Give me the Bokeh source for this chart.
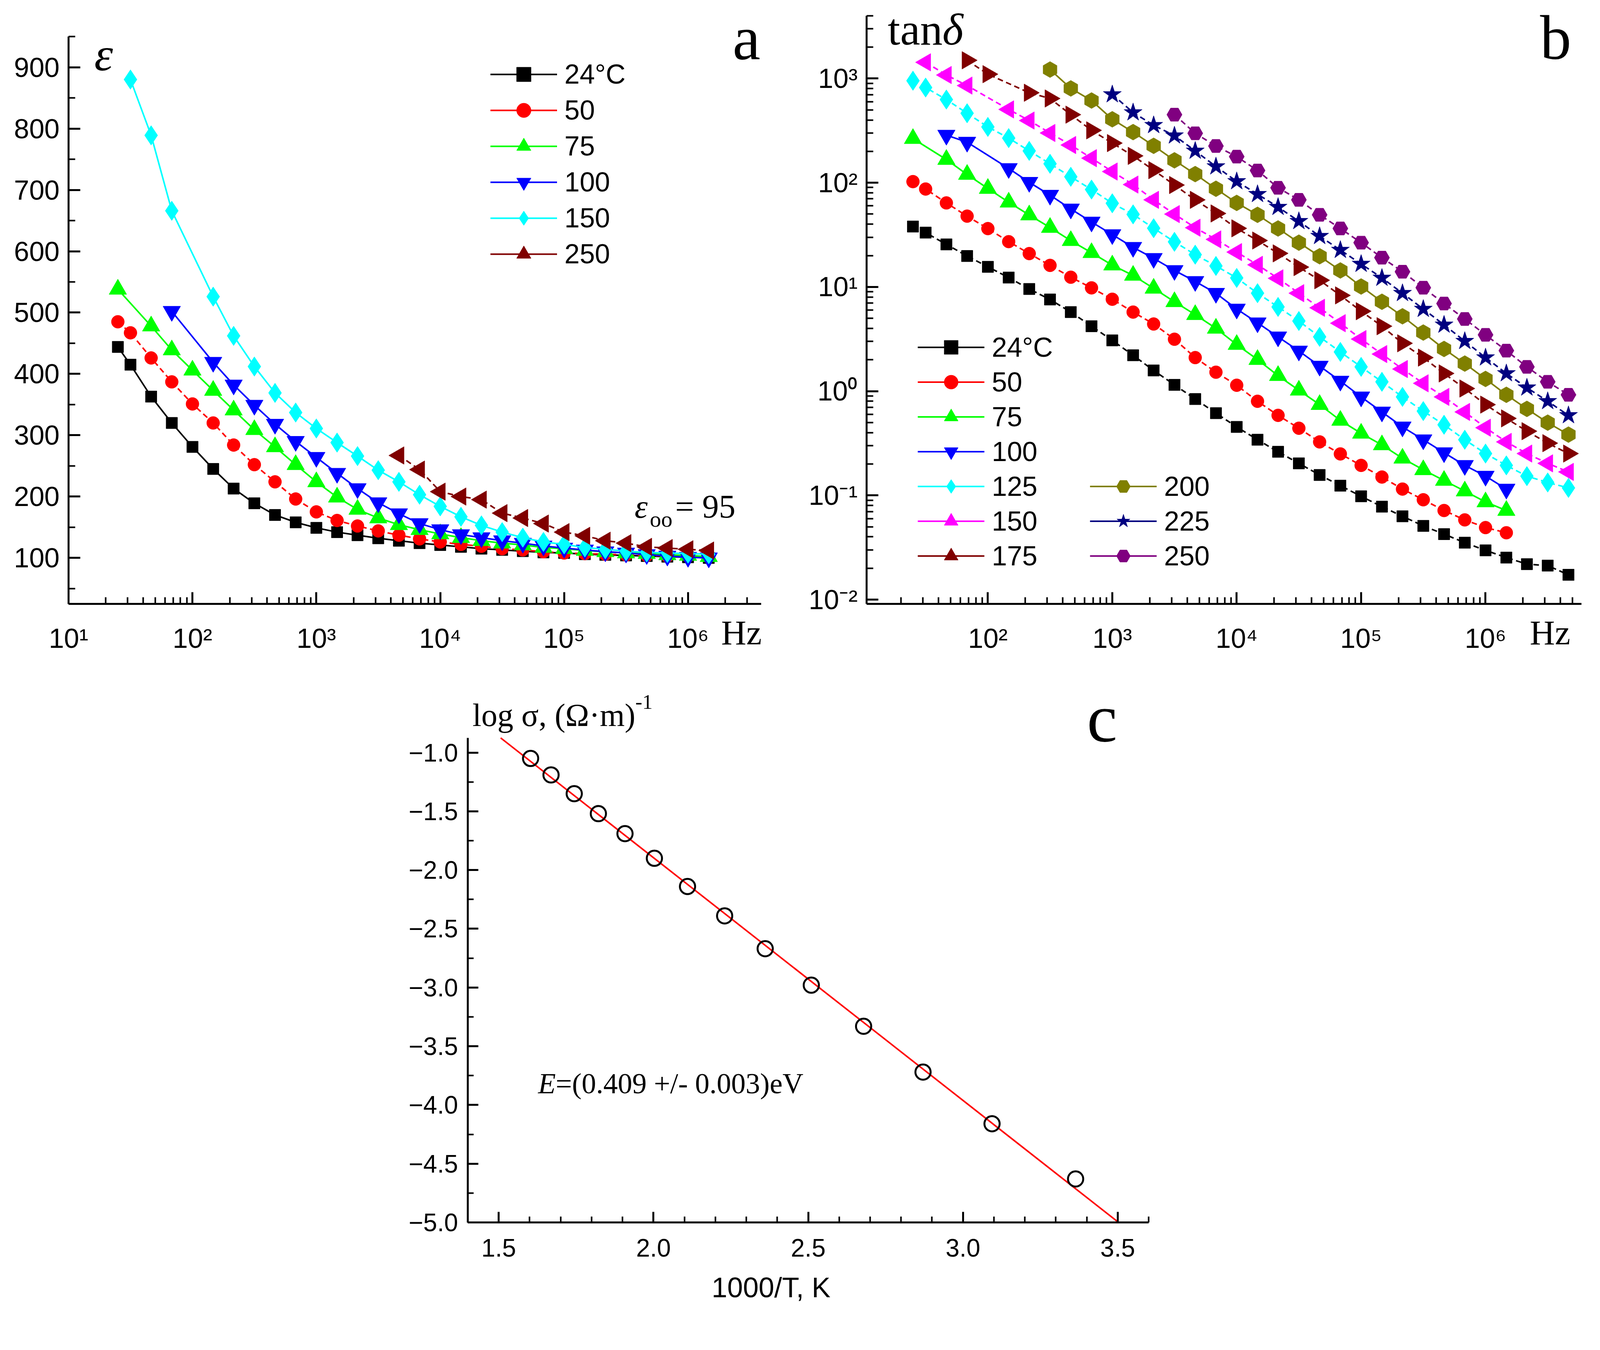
import numpy as np
from bokeh.plotting import figure
from bokeh.models import (FixedTicker, CustomJSTickFormatter, Legend, LegendItem, Label,
                          Range1d, Spacer, ColumnDataSource, LogAxis, LinearAxis)
from bokeh.layouts import row, column
from bokeh.embed import file_html
from bokeh.resources import INLINE

# ---------------- data ----------------
# measurement frequencies (Hz), read from the picture
F = [25, 31.6, 46.4, 68.1, 100, 147, 215, 316, 464, 681, 1000, 1470, 2150, 3160, 4640, 6810,
     1.0e4, 1.47e4, 2.15e4, 3.16e4, 4.64e4, 6.81e4, 1.0e5, 1.47e5, 2.15e5, 3.16e5, 4.64e5, 6.81e5,
     1.0e6, 1.47e6, 2.15e6, 3.16e6, 4.64e6]

# panel a: permittivity
a_f_24 = F[0:30]
a_24 = [444, 415, 363, 320, 281, 245, 213, 189, 170, 158, 149, 142, 137, 132, 128, 124, 121, 118,
        115, 113, 111, 109, 108, 106, 105, 104, 103, 102, 101, 100]
a_f_50 = F[0:30]
a_50 = [485, 467, 426, 387, 351, 320, 284, 252, 224, 196, 175, 161, 152, 144, 137, 131, 126, 122,
        119, 115, 113, 110, 108, 107, 106, 105, 104, 103, 103, 102]
a_f_75 = F[0:1] + F[2:30]
a_75 = [538, 478, 439, 406, 373, 341, 309, 281, 252, 224, 199, 179, 165, 154, 146, 139, 133, 128,
        124, 121, 117, 115, 112, 110, 108, 107, 105, 104, 102]
a_f_100 = F[3:4] + F[5:30]
a_100 = [502, 419, 382, 349, 318, 290, 264, 238, 213, 190, 172, 156, 146, 138, 133, 128, 124,
         119.5, 116, 113, 110, 108, 105.5, 103, 101, 100]
a_f_150 = F[1:4] + F[5:30]
a_150 = [880, 789, 666, 526, 462, 412, 369, 337, 311, 288, 266, 243, 224, 203, 184, 167, 153, 142,
         133, 126, 122, 117, 114, 111, 109, 108, 107, 106]
a_f_250 = F[14:30]
a_250 = [267, 244, 208, 200, 195, 173, 165, 156, 142, 136, 128, 124, 118, 116, 114, 112]

# panel b: loss tangent
b_f_24 = F[0:33]
b_24 = [38, 33.2, 25.6, 19.8, 15.6, 12.3, 9.56, 7.58, 5.74, 4.2, 3.07, 2.21, 1.58, 1.15, 0.84,
        0.615, 0.454, 0.342, 0.262, 0.203, 0.157, 0.124, 0.098, 0.078, 0.063, 0.051, 0.0425,
        0.0352, 0.0297, 0.0253, 0.0219, 0.0212, 0.0173]
b_f_50 = F[0:30]
b_50 = [102.5, 87, 64, 47.8, 36.3, 27.2, 20.9, 16.1, 12.4, 9.8, 7.62, 5.74, 4.41, 3.15, 2.10, 1.52,
        1.14, 0.80, 0.586, 0.441, 0.326, 0.250, 0.194, 0.150, 0.115, 0.0908, 0.0716, 0.0582,
        0.0491, 0.0438]
b_f_75 = F[0:1] + F[2:30]
b_75 = [265, 167, 120, 88, 65, 49, 37.2, 27.8, 21.3, 16.2, 12.9, 9.7, 7.21, 5.42, 4.01, 2.80, 2.01,
        1.41, 1.02, 0.743, 0.524, 0.394, 0.305, 0.227, 0.176, 0.139, 0.110, 0.0865, 0.0716]
b_f_100 = F[2:4] + F[5:30]
b_100 = [286, 245, 137, 101, 76, 56, 42, 31.8, 24, 18.8, 14.4, 11.3, 8.7, 6.14, 4.53, 3.32, 2.43,
         1.74, 1.25, 0.881, 0.632, 0.454, 0.342, 0.257, 0.194, 0.153, 0.115]
b_f_125 = F[0:33]
b_125 = [952, 819, 628, 464, 343, 268, 202, 152, 114, 86, 63.5, 49.7, 36.6, 27.1, 20.4, 15.9, 12.2,
         8.71, 6.43, 4.71, 3.32, 2.38, 1.71, 1.23, 0.881, 0.644, 0.476, 0.342, 0.252, 0.194,
         0.153, 0.133, 0.118]
b_f_150 = F[1:4] + F[5:33]
b_150 = [1430, 1080, 855, 505, 395, 300, 230, 172, 128, 96, 68.5, 50, 37, 28.6, 21.6, 16.3, 12.1,
         8.71, 6.31, 4.49, 3.16, 2.27, 1.63, 1.19, 0.881, 0.632, 0.446, 0.326, 0.252, 0.203, 0.168]
b_f_175 = F[3:5] + F[6:33]
b_175 = [1495, 1100, 730, 643, 450, 318, 240, 181, 132, 95, 68.5, 50.7, 36.5, 27.9, 21, 15.5, 11.6,
         8.3, 5.85, 4.2, 2.88, 2.10, 1.48, 1.06, 0.743, 0.548, 0.413, 0.317, 0.252]
b_f_200 = F[7:33]
b_200 = [1218, 803, 615, 406, 306, 226, 164, 121, 87.5, 64, 49.2, 36.4, 26.6, 19.7, 14.4, 10.1,
         7.21, 5.23, 3.65, 2.54, 1.84, 1.31, 0.923, 0.676, 0.499, 0.383]
b_f_225 = F[10:33]
b_225 = [703, 472, 356, 283, 202, 143, 103, 77.6, 58.4, 42.7, 30.7, 22.6, 16.6, 12.2, 8.71, 6.14,
         4.33, 3.02, 2.10, 1.48, 1.08, 0.80, 0.586]
b_f_250 = F[13:33]
b_250 = [450, 298, 225, 178, 131, 89.4, 68.5, 49.2, 36.4, 26.6, 19.1, 14, 9.84, 6.93, 4.93, 3.47,
         2.45, 1.71, 1.23, 0.923]

# panel c: Arrhenius plot
c_x = [1.603, 1.669, 1.744, 1.822, 1.908, 2.003, 2.110, 2.230, 2.361, 2.510, 2.679, 2.871, 3.094, 3.364]
c_y = [-1.05, -1.19, -1.35, -1.52, -1.69, -1.90, -2.14, -2.39, -2.67, -2.98, -3.33, -3.72, -4.16, -4.63]
fit_slope = -2.066
fit_intercept = 2.237

legend_a = ["24\u00b0C", "50", "75", "100", "150", "250"]
legend_b = ["24\u00b0C", "50", "75", "100", "125", "150", "175", "200", "225", "250"]

# ---------------- styling helpers ----------------
SANS = "Liberation Sans"
SERIF = "Liberation Serif"
DASH = "14 9"
K = 4096 / 4219.0


def s(v):
    return int(round(v * K))


log_fmt_code = """
const sup = {'-':'\u207b','0':'\u2070','1':'\u00b9','2':'\u00b2','3':'\u00b3','4':'\u2074',
             '5':'\u2075','6':'\u2076','7':'\u2077','8':'\u2078','9':'\u2079'};
const e = Math.round(Math.log10(tick));
return '10' + String(e).split('').map(c => sup[c]).join('');
"""


def log_minor(k0, k1, lo, hi):
    return [m * 10.0 ** k for k in range(k0, k1) for m in range(2, 10) if lo <= m * 10.0 ** k <= hi]


def style_axis(ax, fs, tin=31, tmin=17):
    ax.axis_line_width = 5
    ax.axis_line_color = "black"
    ax.major_tick_line_width = 5
    ax.minor_tick_line_width = 4
    ax.major_tick_line_color = "black"
    ax.minor_tick_line_color = "black"
    ax.major_tick_in = s(tin)
    ax.major_tick_out = 0
    ax.minor_tick_in = s(tmin)
    ax.minor_tick_out = 0
    ax.major_label_text_font = SANS
    ax.major_label_text_font_size = f"{s(fs)}px"
    ax.major_label_text_color = "black"


def add_label(p, text, x, y, size, font=SERIF, style="normal"):
    p.add_layout(Label(x=s(x), y=s(y), x_units="screen", y_units="screen", text=text,
                       text_font=font, text_font_size=f"{s(size)}px", text_font_style=style,
                       text_align="left", text_baseline="alphabetic", text_color="black"))


def add_text_axis(p, axis_cls, tick, text, font, size, standoff):
    ax = axis_cls(ticker=FixedTicker(ticks=[tick], minor_ticks=[]),
                  formatter=CustomJSTickFormatter(code="return '%s';" % text),
                  axis_line_color=None, major_tick_line_color=None, minor_tick_line_color=None,
                  major_tick_in=0, major_tick_out=0, minor_tick_in=0, minor_tick_out=0,
                  major_label_text_font=font, major_label_text_font_size=f"{s(size)}px",
                  major_label_text_color="black", major_label_standoff=s(standoff))
    p.add_layout(ax, "below")


def add_series(p, f, v, color, marker, size, dash, angle=0.0):
    src = ColumnDataSource(dict(f=f, v=v))
    p.line('f', 'v', source=src, line_color=color, line_width=4, line_dash=dash)
    sc = p.scatter('f', 'v', source=src, marker=marker, size=s(size), fill_color=color,
                   line_color=color, angle=angle)
    proxy = p.line('f', 'v', source=ColumnDataSource(dict(f=[np.nan], v=[np.nan])),
                   line_color=color, line_width=4)
    return [proxy, sc]


def make_legend(items, x, y, gh):
    return Legend(items=items, location=(s(x), s(y)), orientation="vertical", glyph_width=s(176),
                  glyph_height=s(gh), label_height=s(gh), spacing=0, padding=0, margin=0,
                  label_standoff=s(20), label_text_font=SANS, label_text_font_size=f"{s(72)}px",
                  label_text_color="black", background_fill_alpha=0, border_line_color=None)


# layout geometry (page pixels)
ROW1_H = s(1765) - 8
PA_L, PA_R, PA_T, PA_B = s(189), s(2060), s(10), s(1600)
PB_X0 = s(2130)
PB_L, PB_R, PB_T, PB_B = s(2293), s(4178), s(10), s(1601)
PC_X0, PC_Y0 = s(1000), 8 + ROW1_H
PC_L, PC_R, PC_T, PC_B = s(1241), s(3037), s(1820), s(3230)

# ---------------- panel a ----------------
pa = figure(width=PB_X0 - 8, height=ROW1_H, x_axis_type="log", x_range=Range1d(10, 5.355e6),
            y_range=Range1d(25, 1008.1), output_backend="svg", toolbar_location=None,
            min_border_left=PA_L - 8, min_border_right=PB_X0 - PA_R, min_border_top=PA_T - 8,
            min_border_bottom=8 + ROW1_H - PA_B)
pa.grid.visible = False
pa.outline_line_color = None
pa.xaxis.ticker = FixedTicker(ticks=[10 ** k for k in range(1, 7)],
                              minor_ticks=log_minor(1, 7, 10, 3.9e6))
pa.xaxis.formatter = CustomJSTickFormatter(code=log_fmt_code)
pa.yaxis.ticker = FixedTicker(ticks=list(range(100, 1000, 100)), minor_ticks=list(range(50, 951, 100)))
style_axis(pa.xaxis[0], 72)
style_axis(pa.yaxis[0], 72)
pa.xaxis.bounds = (10, 3.9e6)
pa.yaxis.bounds = (25, 950)
pa.xaxis.major_label_standoff = s(50)
pa.yaxis.major_label_standoff = s(24)
add_text_axis(pa, LogAxis, 2.7e6, "Hz", SERIF, 92, -109)

series_a = [
    (a_f_24, a_24, "#000000", "square", 30, "solid", 0.0),
    (a_f_50, a_50, "#ff0000", "circle", 34, DASH, 0.0),
    (a_f_75, a_75, "#00ff00", "triangle", 46, "solid", 0.0),
    (a_f_100, a_100, "#0000ff", "inverted_triangle", 46, "solid", 0.0),
    (a_f_150, a_150, "#00ffff", "diamond", 52, "solid", 0.0),
    (a_f_250, a_250, "#800000", "triangle", 46, DASH, np.pi / 2),
]
items_a = []
for (f, v, c, m, sz, d, ang), lab in zip(series_a, legend_a):
    items_a.append(LegendItem(label=lab, renderers=add_series(pa, f, v, c, m, sz, d, ang)))
pa.add_layout(make_legend(items_a, 1112, 875, 95))

add_label(pa, "\u03b5", 68, 1449, 125, style="italic")
add_label(pa, "a", 1751, 1492, 165)
add_label(pa, "\u03b5", 1493, 258, 88, style="italic")
add_label(pa, "oo", 1533, 224, 60)
add_label(pa, "= 95", 1600, 258, 88)

# ---------------- panel b ----------------
pb = figure(width=(PB_L - PB_X0) + (PB_R - PB_L) + s(25), height=ROW1_H,
            x_axis_type="log", y_axis_type="log",
            x_range=Range1d(10.6, 5.9e6), y_range=Range1d(0.0091, 5544),
            output_backend="svg", toolbar_location=None,
            min_border_left=PB_L - PB_X0, min_border_right=s(25), min_border_top=PB_T - 8,
            min_border_bottom=8 + ROW1_H - PB_B)
pb.grid.visible = False
pb.outline_line_color = None
pb.xaxis.ticker = FixedTicker(ticks=[10 ** k for k in range(1, 7)],
                              minor_ticks=log_minor(1, 7, 10.6, 5.9e6))
pb.yaxis.ticker = FixedTicker(ticks=[10.0 ** k for k in range(-2, 4)],
                              minor_ticks=log_minor(-3, 4, 0.0091, 4000))
pb.xaxis.formatter = CustomJSTickFormatter(code=log_fmt_code)
pb.yaxis.formatter = CustomJSTickFormatter(code=log_fmt_code)
style_axis(pb.xaxis[0], 72)
style_axis(pb.yaxis[0], 72)
pb.yaxis.bounds = (0.0091, 4000)
pb.xaxis.major_label_standoff = s(50)
pb.yaxis.major_label_standoff = s(24)
add_text_axis(pb, LogAxis, 3.3e6, "Hz", SERIF, 92, -109)

series_b = [
    (b_f_24, b_24, "#000000", "square", 30, DASH, 0.0),
    (b_f_50, b_50, "#ff0000", "circle", 34, DASH, 0.0),
    (b_f_75, b_75, "#00ff00", "triangle", 46, "solid", 0.0),
    (b_f_100, b_100, "#0000ff", "inverted_triangle", 46, "solid", 0.0),
    (b_f_125, b_125, "#00ffff", "diamond", 52, DASH, 0.0),
    (b_f_150, b_150, "#ff00ff", "triangle", 46, DASH, np.pi / 2),
    (b_f_175, b_175, "#800000", "triangle", 46, DASH, -np.pi / 2),
    (b_f_200, b_200, "#808000", "hex", 42, "solid", np.pi / 2),
    (b_f_225, b_225, "#000080", "star", 50, DASH, 0.0),
    (b_f_250, b_250, "#800080", "hex", 40, DASH, 0.0),
]
items_b = []
for (f, v, c, m, sz, d, ang), lab in zip(series_b, legend_b):
    items_b.append(LegendItem(label=lab, renderers=add_series(pb, f, v, c, m, sz, d, ang)))
pb.add_layout(make_legend(items_b[:7], 135, 80, 92))
pb.add_layout(make_legend(items_b[7:], 589, 80, 92))

add_label(pb, "tan", 56, 1514, 118)
add_label(pb, "\u03b4", 200, 1514, 118, style="italic")
add_label(pb, "b", 1776, 1494, 165)

# ---------------- panel c ----------------
pc = figure(width=(PC_L - PC_X0) + (PC_R - PC_L) + s(200), height=(PC_T - PC_Y0) + (PC_B - PC_T) + s(262),
            x_range=Range1d(1.4, 3.6), y_range=Range1d(-5.0, -0.446),
            output_backend="svg", toolbar_location=None,
            min_border_left=PC_L - PC_X0, min_border_right=s(200), min_border_top=PC_T - PC_Y0,
            min_border_bottom=s(262))
pc.grid.visible = False
pc.outline_line_color = None
pc.xaxis.ticker = FixedTicker(ticks=[1.5, 2.0, 2.5, 3.0, 3.5],
                              minor_ticks=[round(1.4 + 0.1 * i, 2) for i in range(23)])
pc.yaxis.ticker = FixedTicker(ticks=[round(-5.0 + 0.5 * i, 2) for i in range(9)],
                              minor_ticks=[round(-5.0 + 0.25 * i, 2) for i in range(17)])
pc.xaxis.formatter = CustomJSTickFormatter(code="return tick.toFixed(1);")
pc.yaxis.formatter = CustomJSTickFormatter(
    code="return (tick < 0 ? '\u2212' : '') + Math.abs(tick).toFixed(1);")
style_axis(pc.xaxis[0], 66, 28, 15)
style_axis(pc.yaxis[0], 66, 28, 15)
pc.yaxis.bounds = (-5.0, -0.875)
pc.xaxis.major_label_standoff = s(43)
pc.yaxis.major_label_standoff = s(26)
add_text_axis(pc, LinearAxis, 2.38, "1000/T, K", SANS, 74, 37)

fit_x = np.array([(pc.yaxis.bounds[1] - fit_intercept) / fit_slope, pc.x_range.end])
pc.line(fit_x, fit_intercept + fit_slope * fit_x, line_color="#ff0000", line_width=4)
pc.scatter(c_x, c_y, marker="circle", size=s(40), fill_color=None, line_color="black", line_width=5)

add_label(pc, "log \u03c3, (\u03a9\u00b7m)", 12, 1337, 84)
add_label(pc, "-1", 442, 1372, 55)
add_label(pc, "c", 1633, 1330, 180)
add_label(pc, "E", 185, 367, 76, style="italic")
add_label(pc, "=(0.409 +/- 0.003)eV", 232, 367, 76)

layout = column(row(pa, pb), row(Spacer(width=PC_X0 - 8, height=10), pc))

open("out.html", "w").write(file_html(layout, INLINE))
